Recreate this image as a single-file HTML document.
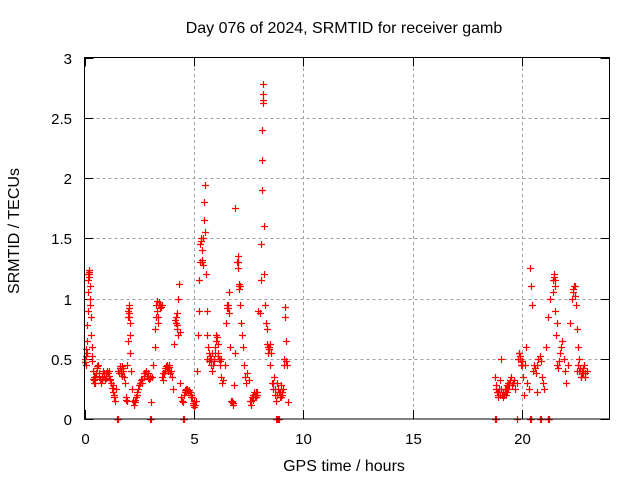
<!DOCTYPE html>
<html><head><meta charset="utf-8"><style>
html,body{margin:0;padding:0;background:#fff;}
svg{display:block;font-family:"Liberation Sans",sans-serif;}
</style></head><body>
<svg id="chart" width="640" height="480" viewBox="0 0 640 480">
<rect width="640" height="480" fill="#fff"/>
<text x="344" y="33" font-size="16" text-anchor="middle">Day 076 of 2024, SRMTID for receiver gamb</text>
<text transform="translate(19,231) rotate(-90)" font-size="16" text-anchor="middle">SRMTID / TECUs</text>
<text x="344" y="471" font-size="16" text-anchor="middle">GPS time / hours</text>
<g id="grid"></g><g id="axes"></g><g id="marks"></g>
<rect x="84.5" y="57.5" width="525" height="361.5" fill="none" stroke="#000" stroke-width="1"/>
</svg>
<script>
const xTicks=[0,5,10,15,20];
const yTicks=[0,0.5,1,1.5,2,2.5,3];
const yTickLabels=["0","0.5","1","1.5","2","2.5","3"];
const hours=[
0.00,0.03,0.05,0.08,0.10,0.12,0.14,0.16,0.18,0.20,
0.22,0.24,0.26,0.28,0.30,0.32,0.35,0.38,0.40,0.42,
0.45,0.50,0.55,0.60,0.65,0.70,0.75,0.80,0.85,0.90,
0.95,1.00,1.05,1.10,1.15,1.20,1.25,1.30,1.35,1.40,
1.45,1.55,1.60,1.65,1.70,1.75,1.80,1.85,1.90,1.95,
1.98,2.00,2.02,2.04,2.06,2.08,2.10,2.12,2.15,2.20,
2.25,2.30,2.35,2.40,2.45,2.50,2.55,2.60,2.65,2.70,
2.75,2.80,2.85,2.90,2.95,3.00,3.05,3.10,3.15,3.20,
3.22,3.25,3.28,3.30,3.33,3.35,3.38,3.40,3.45,3.50,
3.55,3.60,3.65,3.70,3.75,3.80,3.85,3.90,3.95,4.00,
4.05,4.10,4.15,4.18,4.20,4.22,4.25,4.28,4.30,4.35,
4.38,4.40,4.45,4.50,4.55,4.60,4.65,4.70,4.75,4.80,
4.85,4.90,4.95,5.00,5.05,5.10,5.15,5.20,5.22,5.25,
5.28,5.30,5.33,5.35,5.38,5.40,5.42,5.45,5.48,5.50,
5.52,5.55,5.58,5.60,5.65,5.70,5.75,5.80,5.85,5.90,
5.95,6.00,6.05,6.10,6.15,6.20,6.25,6.30,6.35,6.40,
6.45,6.50,6.55,6.60,6.62,6.65,6.70,6.75,6.80,6.85,
6.88,6.90,6.95,7.00,7.02,7.05,7.08,7.10,7.15,7.20,
7.25,7.30,7.35,7.40,7.45,7.50,7.55,7.60,7.65,7.70,
7.75,7.80,7.85,7.90,7.95,8.00,8.05,8.08,8.10,8.12,
8.13,8.14,8.15,8.16,8.18,8.20,8.22,8.25,8.30,8.35,
8.40,8.45,8.50,8.55,8.60,8.65,8.70,8.75,8.80,8.85,
8.90,8.95,9.00,9.05,9.10,9.15,9.18,9.20,9.25,9.30,
1.50,1.52,3.00,3.05,4.52,4.55,8.75,8.80,8.85,8.90,
18.75,18.80,18.85,18.90,18.95,19.00,19.05,19.10,19.15,19.20,
19.25,19.30,19.35,19.40,19.45,19.50,19.55,19.60,19.65,19.70,
19.75,19.80,19.85,19.90,19.95,20.00,20.05,20.10,20.15,20.20,
20.25,20.30,20.35,20.40,20.45,20.50,20.55,20.60,20.65,20.70,
20.70,20.75,20.80,20.85,20.90,20.95,21.00,21.10,21.20,21.30,
21.40,21.45,21.50,21.52,21.55,21.60,21.65,21.70,21.75,21.80,
21.85,21.90,21.95,22.00,22.10,22.20,22.28,22.35,22.40,22.45,
22.50,22.55,22.60,22.65,22.70,22.75,22.80,22.85,22.90,22.95,
18.78,18.80,19.77,20.37,20.40,20.83,20.86,21.18,21.20,21.25
];
const srmtid=[
0.50,0.47,0.52,0.58,0.65,0.78,0.90,1.05,1.20,1.24,
1.18,1.10,0.95,0.85,0.70,0.60,0.48,0.40,0.33,0.30,
0.32,0.35,0.42,0.45,0.38,0.33,0.30,0.35,0.40,0.36,
0.32,0.38,0.40,0.36,0.33,0.30,0.26,0.22,0.18,0.15,
0.25,0.40,0.42,0.38,0.44,0.40,0.35,0.30,0.16,0.45,
0.65,0.85,0.95,0.92,0.80,0.70,0.55,0.40,0.25,0.15,
0.12,0.14,0.18,0.22,0.25,0.28,0.30,0.32,0.33,0.36,
0.38,0.40,0.36,0.34,0.33,0.34,0.14,0.35,0.45,0.60,
0.75,0.85,0.95,0.98,0.90,0.85,0.80,0.95,0.95,0.93,
0.35,0.32,0.38,0.42,0.45,0.40,0.43,0.38,0.40,0.35,
0.25,0.62,0.82,0.85,0.80,0.88,0.75,1.00,1.12,0.72,
0.30,0.18,0.15,0.14,0.20,0.24,0.22,0.25,0.23,0.22,
0.20,0.18,0.13,0.10,0.12,0.15,0.40,0.70,0.90,1.15,
1.30,1.45,1.48,1.40,1.30,1.28,1.50,1.65,1.80,1.94,
1.55,1.20,0.90,0.70,0.60,0.55,0.50,0.45,0.40,0.48,
0.55,0.65,0.68,0.55,0.50,0.45,0.35,0.30,0.32,0.45,
0.80,0.95,0.92,1.05,0.88,0.60,0.15,0.14,0.12,0.28,
0.55,1.75,1.30,1.35,1.25,1.10,1.08,0.95,0.80,0.70,
0.60,0.45,0.35,0.30,0.38,0.32,0.15,0.12,0.18,0.20,
0.22,0.20,0.18,0.22,0.90,0.88,1.15,1.45,1.90,2.15,
2.40,2.62,2.65,2.78,2.70,1.60,1.20,0.95,0.80,0.62,
0.55,0.60,0.45,0.30,0.25,0.35,0.20,0.15,0.30,0.25,
0.22,0.18,0.28,0.20,0.50,0.93,0.85,0.65,0.45,0.14,
0,0,0,0,0,0,0,0,0,0,
0.35,0.28,0.22,0.18,0.25,0.32,0.50,0.20,0.18,0.25,
0.20,0.22,0.25,0.28,0.32,0.35,0.28,0.30,0.32,0.25,
0.30,0.50,0.55,0.52,0.45,0.48,0.35,0.20,0.45,0.60,
0.30,0.25,1.25,1.10,0.95,0.40,0.45,0.42,0.38,0.22,
0.45,0.50,0.52,0.48,0.35,0.30,0.25,0.60,0.85,1.00,
1.15,1.18,1.10,0.90,0.70,0.45,0.42,0.48,0.55,0.60,
0.65,0.50,0.40,0.30,0.45,0.80,1.00,1.08,1.10,0.95,
0.75,0.60,0.50,0.42,0.35,0.40,0.38,0.45,0.35,0.40,
0,0,0,0,0,0,0,0,0,0
];
const extraHours=[
0.05,0.12,0.17,0.19,0.21,0.25,0.33,0.43,0.48,0.52,
0.58,0.68,0.78,0.88,0.98,1.08,1.12,1.18,1.28,1.33,
1.58,1.62,1.68,1.72,1.78,1.88,1.92,2.01,2.03,2.05,
2.32,2.42,2.52,2.62,2.72,2.82,2.88,2.98,3.42,3.47,
3.52,3.58,3.68,3.72,3.78,3.82,3.88,4.16,4.24,4.26,
4.58,4.62,4.68,4.72,4.78,4.88,4.98,5.02,5.31,5.36,
5.62,5.68,5.72,5.78,5.82,5.88,5.92,5.98,6.02,6.08,
6.12,6.18,6.22,6.52,6.58,6.72,6.78,7.03,7.06,7.12,
7.62,7.68,7.72,7.78,7.82,7.88,8.32,8.38,8.42,8.48,
8.52,8.62,8.72,8.82,8.92,8.98,9.02,9.08,9.12,9.22,
18.82,18.88,18.92,18.98,19.02,19.12,19.18,19.22,19.28,19.32,
19.38,19.42,19.88,19.92,19.98,20.02,21.42,21.48,21.53,21.58,
22.32,22.37,22.42,22.52,22.58,22.62,22.68,22.72,22.78,22.88
];
const extraSrmtid=[
0.45,0.55,1.15,1.22,1.20,1.00,0.52,0.35,0.30,0.38,
0.44,0.36,0.32,0.38,0.34,0.38,0.40,0.32,0.28,0.20,
0.38,0.44,0.40,0.36,0.42,0.18,0.15,0.90,0.88,0.85,
0.16,0.20,0.30,0.30,0.38,0.40,0.38,0.36,0.97,0.92,
0.95,0.38,0.40,0.44,0.42,0.40,0.45,0.80,0.78,0.70,
0.22,0.25,0.24,0.22,0.24,0.18,0.12,0.15,1.50,1.32,
0.50,0.48,0.52,0.50,0.55,0.45,0.50,0.60,0.70,0.62,
0.52,0.48,0.50,0.92,0.95,0.15,0.13,1.30,1.12,1.10,
0.15,0.16,0.20,0.18,0.22,0.20,0.75,0.60,0.58,0.62,
0.55,0.30,0.25,0.20,0.22,0.18,0.22,0.25,0.45,0.48,
0.25,0.20,0.22,0.20,0.25,0.22,0.20,0.22,0.25,0.28,
0.30,0.30,0.55,0.50,0.48,0.45,1.05,1.20,1.15,0.80,
1.05,1.10,1.02,0.40,0.45,0.40,0.35,0.38,0.42,0.38
];
const NS="http://www.w3.org/2000/svg";
const X0=84.5,X1=609.5,Y0=419,Y1=57.5;
function xs(t){return X0+(X1-X0)*t/24;}
function ys(v){return Y0-(Y0-Y1)*v/3;}
function mk(tag,attrs,parent){const e=document.createElementNS(NS,tag);for(const k in attrs)e.setAttribute(k,attrs[k]);parent.appendChild(e);return e;}
const grid=document.getElementById('grid'),axes=document.getElementById('axes'),marks=document.getElementById('marks');
yTicks.forEach((v,i)=>{
  const y=Math.round(ys(v))+0.5;
  if(v>0&&v<3){const g=mk('line',{x1:X0,x2:X1,y1:y,y2:y,stroke:'#a0a0a0','stroke-dasharray':'3,3'},grid);
  
  }
  mk('line',{x1:X0,x2:X0+9,y1:y,y2:y,stroke:'#000'},axes);
  mk('line',{x1:X1,x2:X1-9,y1:y,y2:y,stroke:'#000'},axes);
  const t=mk('text',{x:72,y:y+5.5,'font-size':15,'text-anchor':'end'},axes);
  
  
  t.textContent=yTickLabels[i];
});
xTicks.forEach(h=>{
  const x=Math.round(xs(h))+0.5;
  if(h>0){const g=mk('line',{x1:x,x2:x,y1:Y0,y2:Y1,stroke:'#a0a0a0','stroke-dasharray':'3,3'},grid);
  
  }
  mk('line',{x1:x,x2:x,y1:Y0,y2:Y0-9,stroke:'#000'},axes);
  mk('line',{x1:x,x2:x,y1:Y1,y2:Y1+9,stroke:'#000'},axes);
  const t=mk('text',{x:x,y:444,'font-size':15,'text-anchor':'middle'},axes);
  
  
  t.textContent=String(h);
});
function drawPoint(h,v){
  const x=Math.round(xs(h))+0.5,y=Math.round(ys(v))+0.5;
  const p=mk('path',{d:`M${x-3.5},${y}H${x+3.5}M${x},${y-3.5}V${y+3.5}`,stroke:'#ff0000','stroke-width':1.2,fill:'none'},marks);
  
  
}
hours.forEach((h,i)=>drawPoint(h,srmtid[i]));
extraHours.forEach((h,i)=>drawPoint(h,extraSrmtid[i]));
</script>
</body></html>
